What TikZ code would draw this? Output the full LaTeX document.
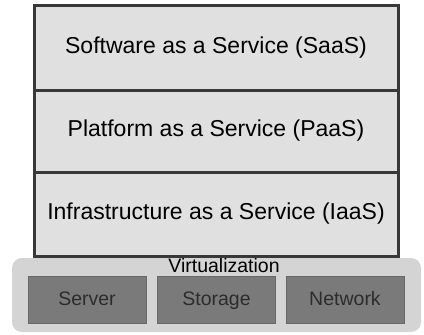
\documentclass[tikz,border=0pt]{standalone}
\usepackage{fontspec}
\setmainfont{Liberation Sans}
\usepackage{tikz}
\usetikzlibrary{positioning}
\definecolor{layerfill}{RGB}{224, 224, 224}
\definecolor{layerline}{RGB}{56, 56, 56}
\definecolor{panelfill}{RGB}{212, 212, 212}
\definecolor{hwfill}{RGB}{122, 122, 122}
\definecolor{hwtext}{RGB}{44, 44, 44}

\begin{document}
\begin{tikzpicture}[x=1pt, y=-1pt]
    \useasboundingbox (0,0) rectangle (424,335);

    % virtualization panel
    \fill[panelfill, rounded corners=10pt] (12,258) rectangle (421,332);
    \node (virt) at (224,266) {\fontsize{19.5}{22}\selectfont Virtualization};

    \begin{scope}[every node/.style={draw=layerline, line width=3pt, fill=layerfill, minimum width=364pt, inner sep=0pt, font=\fontsize{23}{27}\selectfont}]
        \node[minimum height=85pt] (saas) at (216,47.5) {Software as a Service (SaaS)};
        \node[minimum height=82pt] (paas) at (216,131) {Platform as a Service (PaaS)};
        \node[minimum height=84pt] (iaas) at (216,214) {Infrastructure as a Service (IaaS)};
    \end{scope}

    \begin{scope}[every node/.style={draw=hwfill!85!black, line width=0.8pt, fill=hwfill, minimum width=118pt, minimum height=47pt, inner sep=0pt, text height=14pt, text depth=4pt, text=hwtext, font=\fontsize{19.5}{22}\selectfont}]
        \node (server) at (87,300) {Server};
        \node (storage) at (216.5,300) {Storage};
        \node (network) at (345,300) {Network};
    \end{scope}
\end{tikzpicture}
\end{document}
